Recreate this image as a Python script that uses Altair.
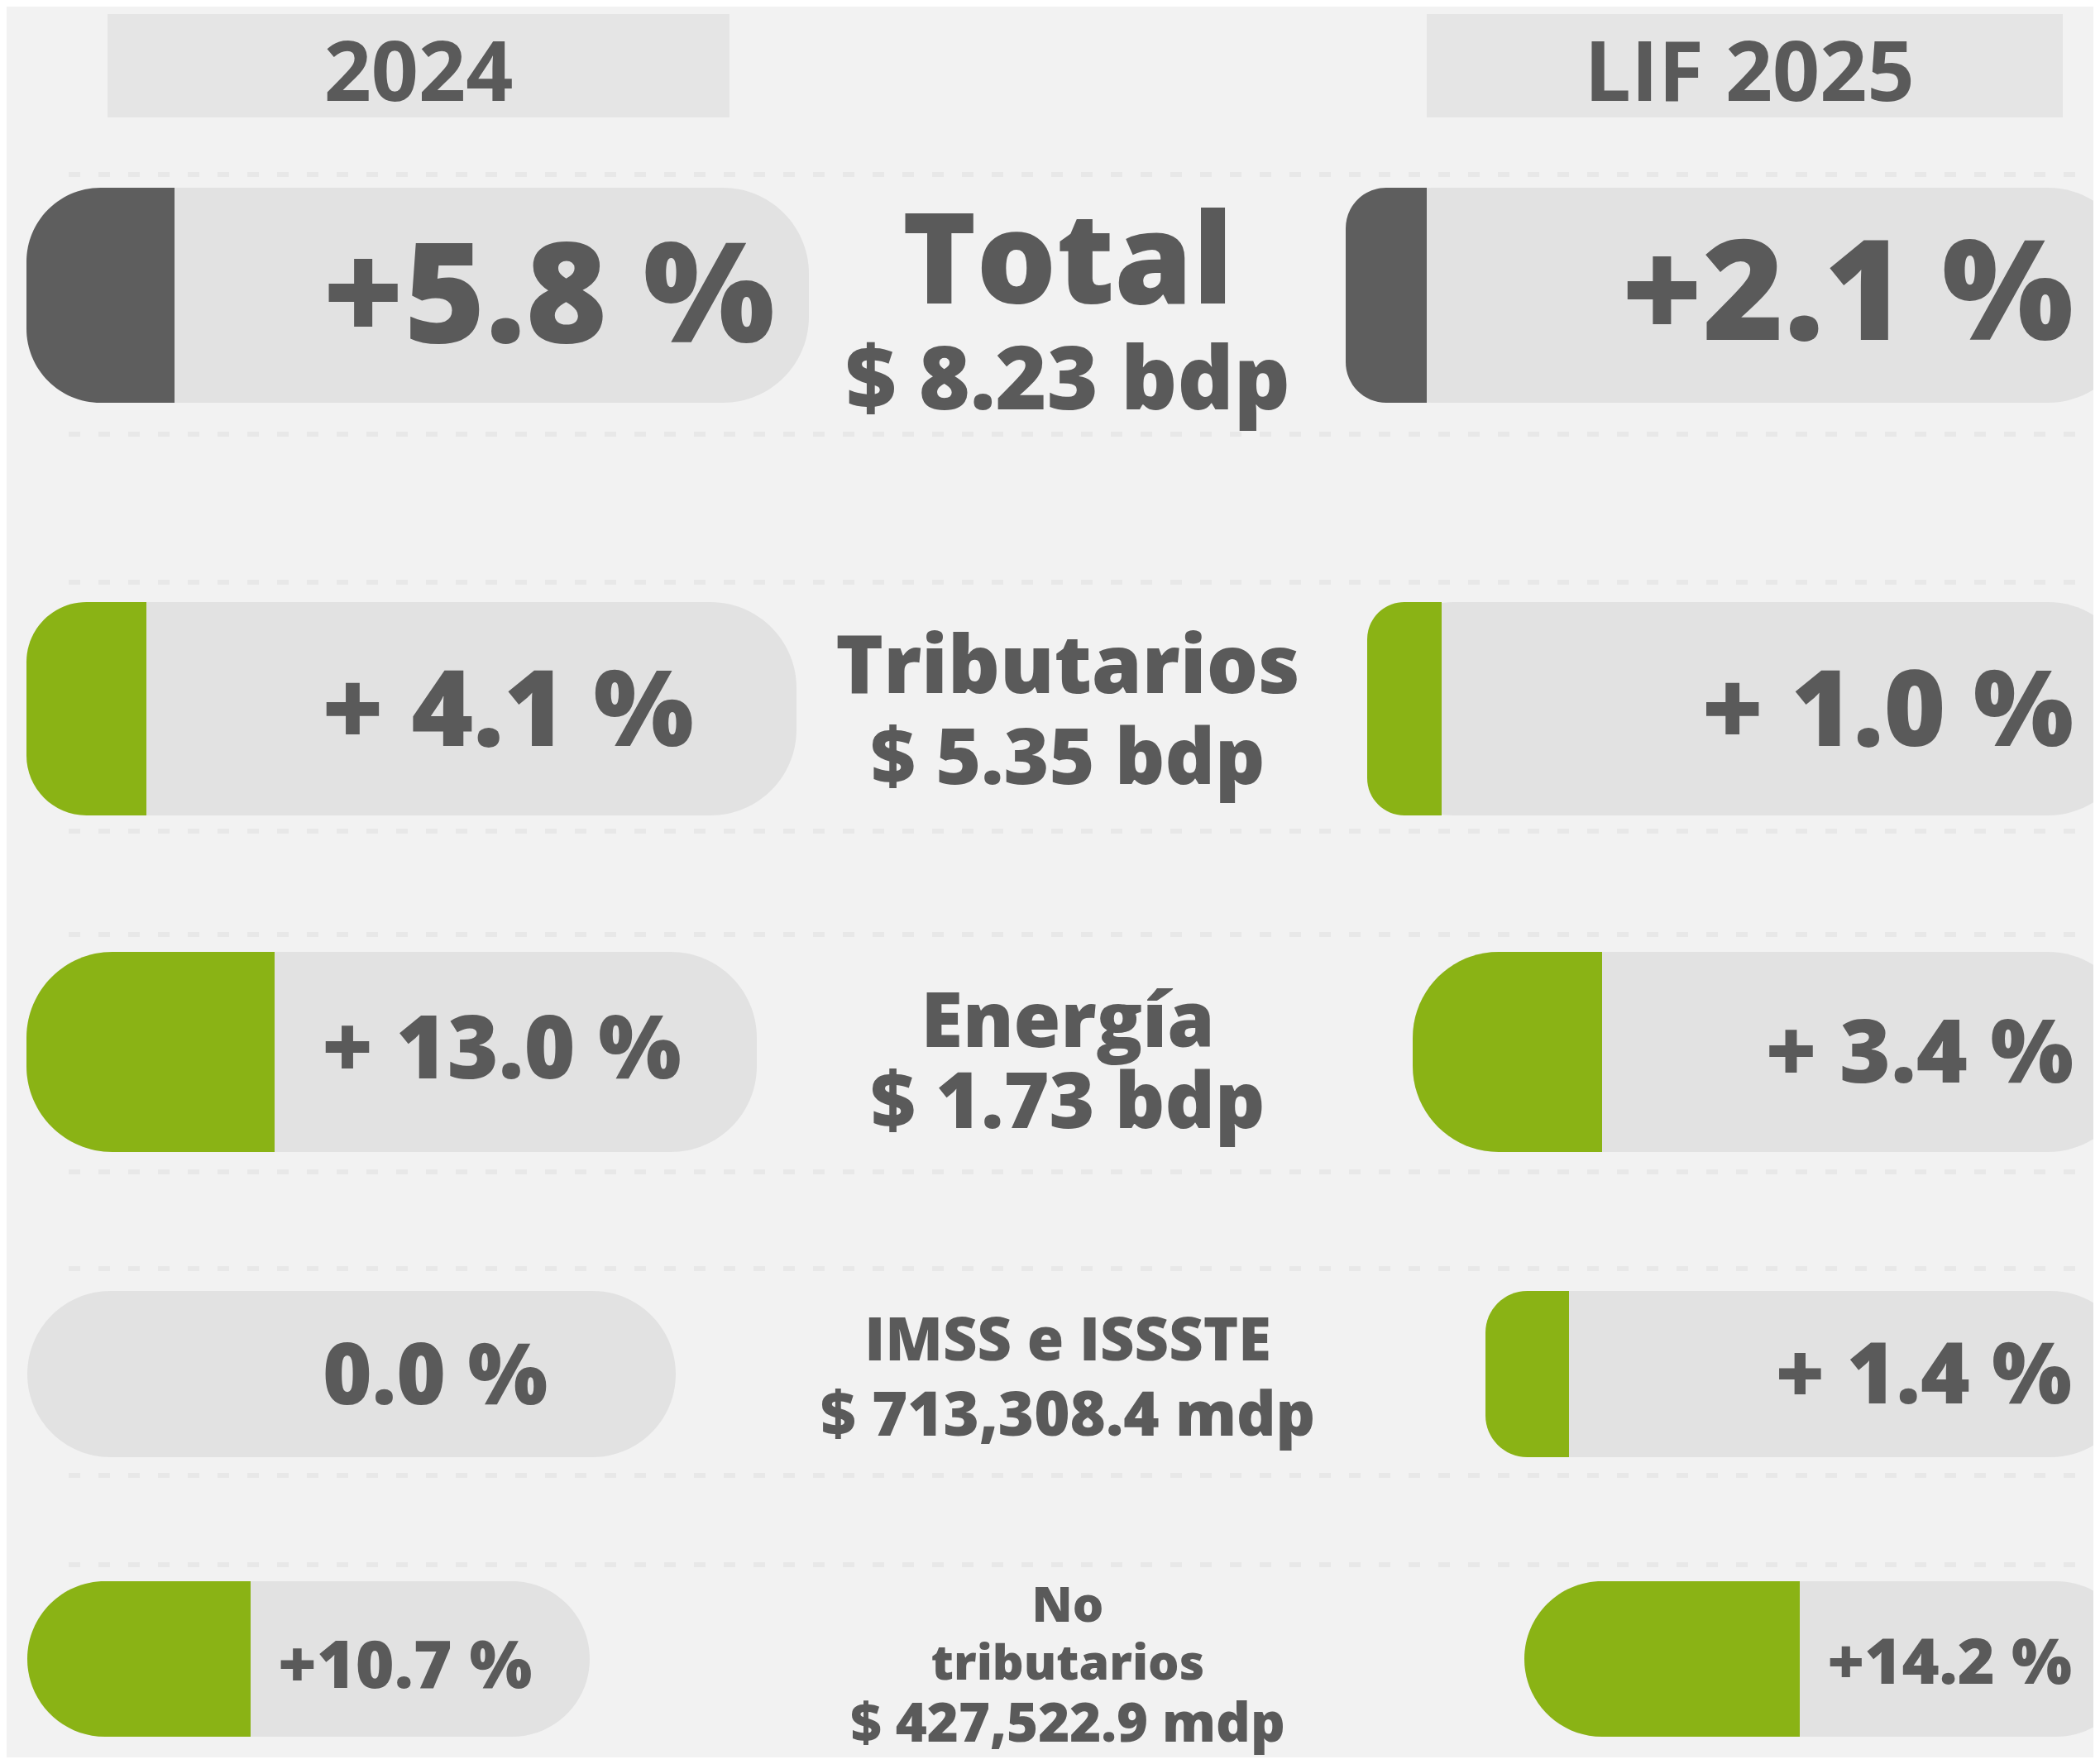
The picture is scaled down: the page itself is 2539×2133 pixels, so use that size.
import altair as alt
import pandas as pd

# ---------------- data ----------------
rubros = ["Total", "Tributarios", "Energía", "IMSS e ISSSTE", "No tributarios"]
rubro_lines = [["Total"], ["Tributarios"], ["Energía"], ["IMSS e ISSSTE"], ["No", "tributarios"]]
montos = ["$ 8.23 bdp", "$ 5.35 bdp", "$ 1.73 bdp", "$ 713,308.4 mdp", "$ 427,522.9 mdp"]
pct_2024 = [5.8, 4.1, 13.0, 0.0, 10.7]
pct_2025 = [2.1, 1.0, 3.4, 1.4, 14.2]
txt_2024 = ["+5.8 %", "+ 4.1 %", "+ 13.0 %", "0.0 %", "+10.7 %"]
txt_2025 = ["+2.1 %", "+ 1.0 %", "+ 3.4 %", "+ 1.4 %", "+14.2 %"]
headers = ["2024", "LIF 2025"]

# ---------------- layout (kept apart from the data) ----------------
row_top = [227, 728, 1151, 1561, 1912]
row_bot = [487, 986, 1393, 1762, 2100]
left_x0 = [32, 32, 32, 33, 33]
left_x1 = [978, 963, 915, 817, 713]
left_fill = [211, 177, 332, None, 303]
right_x0 = [1627, 1653, 1708, 1796, 1843]
right_x1 = [2580, 2580, 2580, 2580, 2580]
right_fill = [1725, 1743, 1937, 1897, 2176]
pct_fs_l = [168, 128, 106, 102, 80]
pct_fs_r = [168, 128, 106, 102, 77]
pct_base_l = [414, 902, 1304, 1698, 2041]
pct_base_r = [411, 902, 1309, 1697, 2036]
pct_x_l = [390, 389, 389, 390, 336]
pct_x_r = [2507, 2507, 2507, 2505, 2505]
center_x = 1291
name_base = [[367], [838], [1266], [1645], [1961, 2031]]
name_fs = [152, 98, 92, 72, 59]
amt_base = [495, 948, 1364, 1736, 2106]
amt_fs = [106, 94, 94, 74, 65]
dash_y = [211, 525, 704, 1005, 1130, 1417, 1534, 1784, 1892]
hdr_x0 = [130, 1725]
hdr_x1 = [882, 2494]
hdr_y0, hdr_y1 = 17, 142
hdr_cx = [506, 2115]
hdr_base = 122
hdr_fs = 100

TEXT = "#5a5a5a"
PILL = "#e2e2e2"
GREEN = "#8ab315"
DARK = "#5e5e5e"
BG = "#f2f2f2"
HDR = "#e5e5e5"
FONT = "Open Sans"

X = alt.Scale(domain=[8, 2531], nice=False, zero=False)
Y = alt.Scale(domain=[8, 2125], reverse=True, nice=False, zero=False)


def xq(f):
    return alt.X(f"{f}:Q", scale=X, axis=None)


def yq(f):
    return alt.Y(f"{f}:Q", scale=Y, axis=None)


layers = []

# dotted separators
dash_df = pd.DataFrame({"y": dash_y, "x0": 83, "x1": 2531})
layers.append(
    alt.Chart(dash_df).mark_rule(color="#e8e8e8", strokeWidth=6, strokeDash=[14, 22]).encode(
        x=xq("x0"), x2="x1", y=yq("y")
    )
)

# header boxes + texts
hdr_df = pd.DataFrame({"t": headers, "x0": hdr_x0, "x1": hdr_x1, "y0": hdr_y0, "y1": hdr_y1,
                       "cx": hdr_cx, "yb": hdr_base})
layers.append(
    alt.Chart(hdr_df).mark_rect(color=HDR).encode(x=xq("x0"), x2="x1", y=yq("y0"), y2="y1")
)
layers.append(
    alt.Chart(hdr_df).mark_text(font=FONT, fontWeight="bold", fontSize=hdr_fs, color=TEXT,
                                baseline="alphabetic", align="center").encode(
        x=xq("cx"), y=yq("yb"), text="t:N")
)

# pills per row
for i in range(len(rubros)):
    h = row_bot[i] - row_top[i]
    r = min(h / 2, 104)
    cap_col = DARK if i == 0 else GREEN
    df = pd.DataFrame({
        "side": ["2024", "LIF 2025"],
        "x0": [left_x0[i], right_x0[i]],
        "x1": [left_x1[i], right_x1[i]],
        "f1": [left_fill[i] if left_fill[i] is not None else left_x0[i], right_fill[i]],
        "y0": [row_top[i]] * 2,
        "y1": [row_bot[i]] * 2,
        "pct": [pct_2024[i], pct_2025[i]],
    })
    layers.append(
        alt.Chart(df).mark_bar(color=PILL, cornerRadius=r, clip=True).encode(
            x=xq("x0"), x2="x1", y=yq("y0"), y2="y1")
    )
    fill_df = df[df["pct"] > 0]
    layers.append(
        alt.Chart(fill_df).mark_bar(color=cap_col, cornerRadiusTopLeft=r,
                                    cornerRadiusBottomLeft=r, clip=True).encode(
            x=xq("x0"), x2="f1", y=yq("y0"), y2="y1")
    )

# percentage texts
pl = pd.DataFrame({"t": txt_2024, "x": pct_x_l, "y": pct_base_l, "fs": pct_fs_l})
pr = pd.DataFrame({"t": txt_2025, "x": pct_x_r, "y": pct_base_r, "fs": pct_fs_r})
layers.append(
    alt.Chart(pl).mark_text(font=FONT, fontWeight=800, color=TEXT, align="left",
                            baseline="alphabetic").encode(
        x=xq("x"), y=yq("y"), text="t:N", size=alt.Size("fs:Q", scale=None, legend=None))
)
layers.append(
    alt.Chart(pr).mark_text(font=FONT, fontWeight=800, color=TEXT, align="right",
                            baseline="alphabetic").encode(
        x=xq("x"), y=yq("y"), text="t:N", size=alt.Size("fs:Q", scale=None, legend=None))
)

# centre labels
rows_t = []
for i in range(len(rubros)):
    for line, yb in zip(rubro_lines[i], name_base[i]):
        rows_t.append({"t": line, "x": center_x, "y": yb, "fs": name_fs[i]})
    rows_t.append({"t": montos[i], "x": center_x, "y": amt_base[i], "fs": amt_fs[i]})
ct = pd.DataFrame(rows_t)
layers.append(
    alt.Chart(ct).mark_text(font=FONT, fontWeight=800, color=TEXT, align="center",
                            baseline="alphabetic").encode(
        x=xq("x"), y=yq("y"), text="t:N", size=alt.Size("fs:Q", scale=None, legend=None))
)

chart = alt.layer(*layers).properties(
    width=2523, height=2117, background=BG, padding=0,
    autosize=alt.AutoSizeParams(type="none"),
).configure_view(stroke=None)

chart.save("out.html", embed_options={"renderer": "svg", "actions": False})
